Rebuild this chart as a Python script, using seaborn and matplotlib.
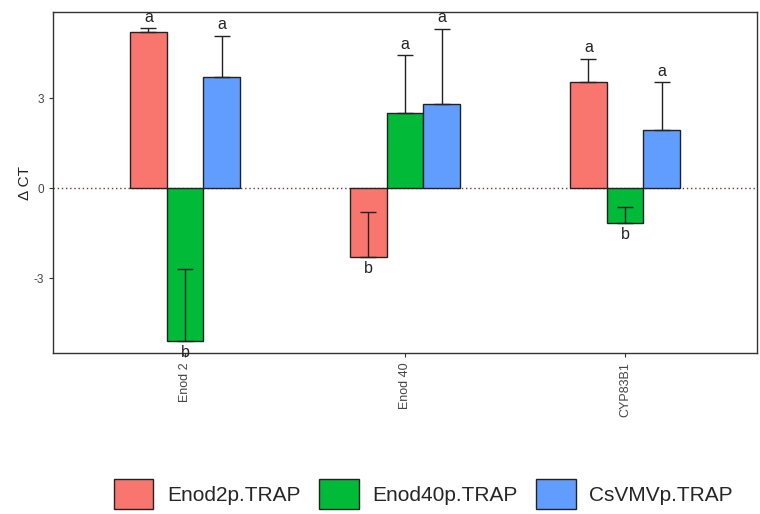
import matplotlib
matplotlib.use("Agg")
import matplotlib.pyplot as plt
import seaborn as sns
import pandas as pd
import numpy as np
from matplotlib.patches import Patch

genes = ["Enod 2", "Enod 40", "CYP83B1"]
lines = ["Enod2p.TRAP", "Enod40p.TRAP", "CsVMVp.TRAP"]
colors = ["#F8766D", "#00BA38", "#619CFF"]
means = {
    "Enod2p.TRAP": [5.2, -2.3, 3.53],
    "Enod40p.TRAP": [-5.1, 2.5, -1.17],
    "CsVMVp.TRAP": [3.7, 2.8, 1.93],
}
sds = {
    "Enod2p.TRAP": [0.13, 1.5, 0.77],
    "Enod40p.TRAP": [2.4, 1.93, 0.54],
    "CsVMVp.TRAP": [1.37, 2.5, 1.6],
}
letters = {
    "Enod2p.TRAP": ["a", "b", "a"],
    "Enod40p.TRAP": ["b", "a", "b"],
    "CsVMVp.TRAP": ["a", "a", "a"],
}

rows = []
for ln in lines:
    for i, g in enumerate(genes):
        rows.append({"gene": g, "line": ln, "dct": means[ln][i]})
df = pd.DataFrame(rows)

sns.set_style("white")
plt.rcParams["font.family"] = ["Liberation Sans", "DejaVu Sans"]

fig = plt.figure(figsize=(7.6, 5.14), dpi=100)
ax = fig.add_axes([53/760, 1-353/514, (757-53)/760, (353-12)/514])

sns.barplot(data=df, x="gene", y="dct", hue="line", order=genes, hue_order=lines,
            palette=colors, width=0.5, errorbar=None, edgecolor="#222222",
            linewidth=1.0, saturation=1, ax=ax, legend=False, zorder=2)

ax.axhline(0, color="#6a3a3a", linestyle=(0, (1, 2)), linewidth=1.0, zorder=1)

for cont, ln in zip(ax.containers, lines):
    for bar, m, s, lt in zip(cont, means[ln], sds[ln], letters[ln]):
        xc = bar.get_x() + bar.get_width() / 2
        ax.errorbar(xc, m, yerr=[[0], [s]], color="#222222", capsize=6,
                    elinewidth=1, capthick=1, zorder=3)
        if m >= 0:
            ax.text(xc, m + s + 0.12, lt, ha="center", va="bottom", fontsize=11.5, color="#222222")
        else:
            ax.text(xc, m - 0.12, lt, ha="center", va="top", fontsize=11.5, color="#222222")

ax.set_xlim(-0.6, 2.6)
ax.set_ylim(-5.5, 5.87)
ax.set_yticks([-3, 0, 3])
ax.set_yticklabels(["-3", "0", "3"])
ax.set_xlabel("")
ax.set_ylabel("Δ CT", fontsize=11, color="#222222", labelpad=1)
ax.tick_params(axis="x", labelrotation=90, labelsize=9, length=3, color="#333333", labelcolor="#444444")
ax.tick_params(axis="y", labelsize=8.5, length=3, color="#333333", labelcolor="#444444")
ax.tick_params(bottom=True, left=True)
for sp in ax.spines.values():
    sp.set_color("#333333")
    sp.set_linewidth(1.0)

handles = [Patch(facecolor=c, edgecolor="#222222", linewidth=1.0, label=l) for c, l in zip(colors, lines)]
fig.legend(handles=handles, loc="center", bbox_to_anchor=(0.557, 1-494/514), ncol=3,
           frameon=False, fontsize=15, handlelength=1.9, handleheight=1.9,
           columnspacing=0.9, handletextpad=0.65, borderpad=0.2)

fig.savefig("out.png", dpi=100)
